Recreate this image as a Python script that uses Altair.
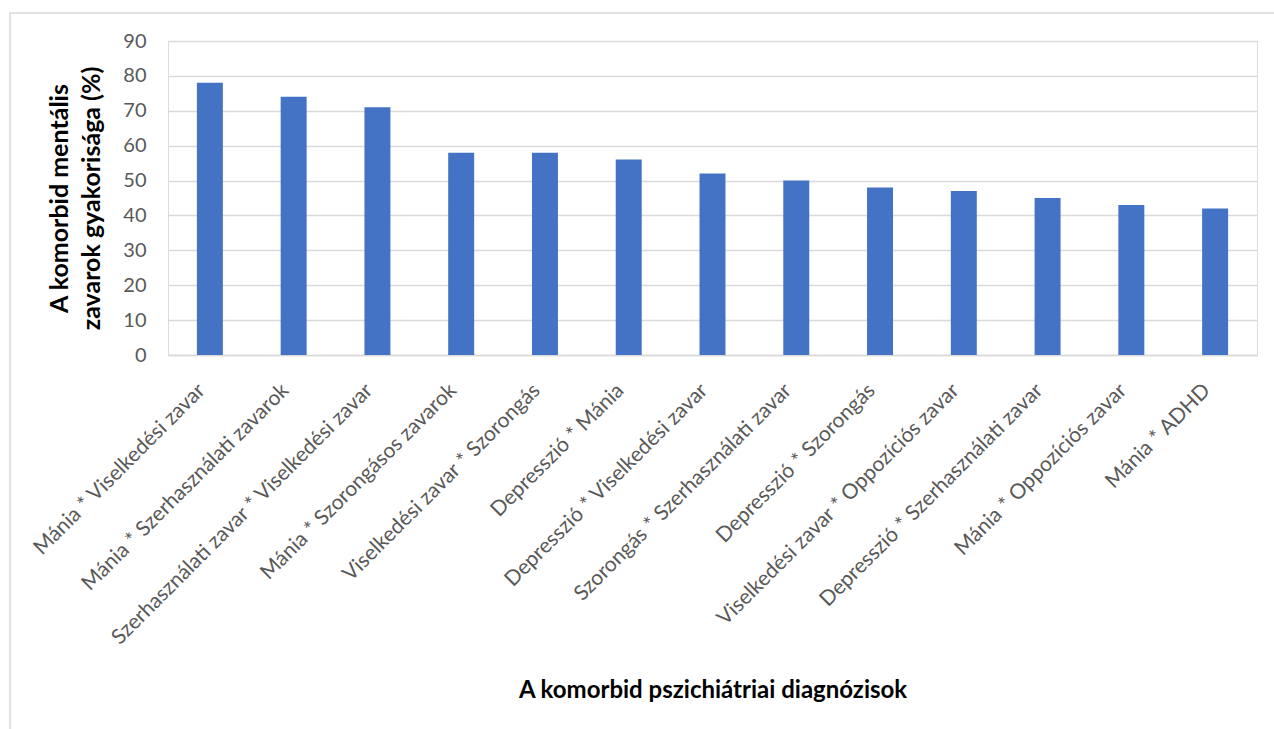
import altair as alt
import pandas as pd

# Comorbid diagnosis pairs and their prevalence (%)
categories = [
    "Mánia * Viselkedési zavar",
    "Mánia * Szerhasználati zavarok",
    "Szerhasználati zavar * Viselkedési zavar",
    "Mánia * Szorongásos zavarok",
    "Viselkedési zavar * Szorongás",
    "Depresszió * Mánia",
    "Depresszió * Viselkedési zavar",
    "Szorongás * Szerhasználati zavar",
    "Depresszió * Szorongás",
    "Viselkedési zavar * Oppozíciós zavar",
    "Depresszió * Szerhasználati zavar",
    "Mánia * Oppozíciós zavar",
    "Mánia * ADHD",
]
values = [78, 74, 71, 58, 58, 56, 52, 50, 48, 47, 45, 43, 42]
y_ticks = [0, 10, 20, 30, 40, 50, 60, 70, 80, 90]

df = pd.DataFrame({"diag": categories, "pct": values})

FONT = "Lato"
GRID = "#d9d9d9"
LABEL = "#595959"

PLOT_W, PLOT_H = 1089, 314
LEFT, TOP = 168, 41

bars = alt.Chart(df).mark_bar(color="#4472C4").encode(
    x=alt.X(
        "diag:N",
        sort=categories,
        scale=alt.Scale(paddingInner=0.69, paddingOuter=0.345),
        axis=alt.Axis(
            title="A komorbid pszichiátriai diagnózisok",
            labelAngle=-45,
            labelAlign="right",
            labelBaseline="middle",
            labelFont=FONT,
            labelFontSize=21,
            labelColor=LABEL,
            labelLimit=500,
            labelPadding=32,
            labelOffset=-8,
            ticks=False,
            domainColor=GRID,
            domainWidth=1.5,
            titleFont=FONT,
            titleFontSize=24,
            titleFontWeight="bold",
            titleColor="#000000",
            titleY=335,
            titleBaseline="middle",
        ),
    ),
    y=alt.Y(
        "pct:Q",
        scale=alt.Scale(domain=[0, 90], nice=False),
        axis=alt.Axis(
            title=["A komorbid mentális", "zavarok gyakorisága (%)"],
            values=y_ticks,
            labelFont=FONT,
            labelFontSize=20,
            labelColor=LABEL,
            labelPadding=22,
            ticks=False,
            domain=False,
            gridColor=GRID,
            gridWidth=1.5,
            titleFont=FONT,
            titleFontSize=25,
            titleFontWeight="bold",
            titleColor="#000000",
            titleLineHeight=32,
            titlePadding=18,
        ),
    ),
)

# Light outer frame around the chart area
frame = alt.Chart(pd.DataFrame({"k": [0]})).mark_rect(
    fill=None, stroke=GRID, strokeWidth=1.5, clip=False
).encode(
    x=alt.value(10 - LEFT),
    x2=alt.value(1280 - LEFT),
    y=alt.value(13 - TOP),
    y2=alt.value(740 - TOP),
)

chart = alt.layer(frame, bars).properties(
    width=PLOT_W,
    height=PLOT_H,
    autosize=alt.AutoSizeParams(type="none"),
    padding={"left": LEFT, "top": TOP, "right": 1274 - LEFT - PLOT_W, "bottom": 729 - TOP - PLOT_H},
).configure_view(stroke=None).configure(background="white")

chart.save("out.html", embed_options={"renderer": "svg", "actions": False})
